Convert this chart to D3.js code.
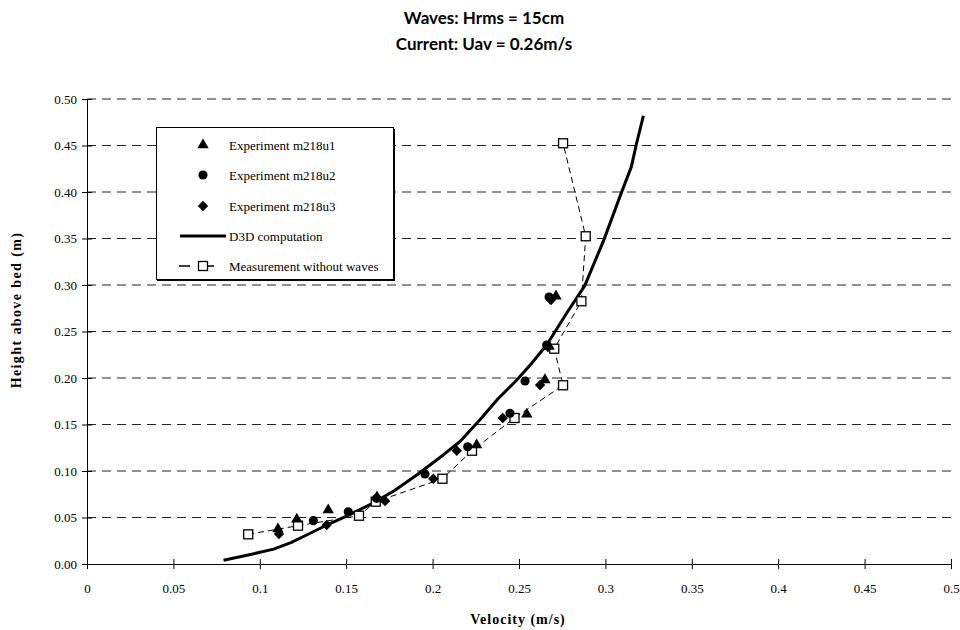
<!DOCTYPE html>
<html>
<head>
<meta charset="utf-8">
<script src="https://cdn.jsdelivr.net/npm/d3@7"></script>
<style>
  body { margin: 0; background: #fff; }
  svg { display: block; }
</style>
</head>
<body>
<svg id="chart" width="960" height="630"></svg>
<script>
// Title lines
const titleLines = ["Waves: Hrms = 15cm", "Current: Uav = 0.26m/s"];
const xLabel = "Velocity (m/s)";
const yLabel = "Height above bed (m)";

// Tick values
const xTicks = [0, 0.05, 0.1, 0.15, 0.2, 0.25, 0.3, 0.35, 0.4, 0.45, 0.5];
const xTickLabels = ["0", "0.05", "0.1", "0.15", "0.2", "0.25", "0.3", "0.35", "0.4", "0.45", "0.5"];
const yTicks = [0, 0.05, 0.1, 0.15, 0.2, 0.25, 0.3, 0.35, 0.4, 0.45, 0.5];
const yTickLabels = ["0.00", "0.05", "0.10", "0.15", "0.20", "0.25", "0.30", "0.35", "0.40", "0.45", "0.50"];

// Experiment m218u1 (velocity m/s, height m)
const u1Vel = [0.1105, 0.1214, 0.1396, 0.1678, 0.2255, 0.2545, 0.2650, 0.2674, 0.2714];
const u1Hgt = [0.0376, 0.0481, 0.0581, 0.0720, 0.1280, 0.1610, 0.1980, 0.2340, 0.2880];

// Experiment m218u2
const u2Vel = [0.1310, 0.1512, 0.1676, 0.1956, 0.2203, 0.2448, 0.2535, 0.2660, 0.2674];
const u2Hgt = [0.0466, 0.0562, 0.0706, 0.0968, 0.1261, 0.1620, 0.1968, 0.2355, 0.2870];

// Experiment m218u3
const u3Vel = [0.1111, 0.1387, 0.1725, 0.2004, 0.2140, 0.2406, 0.2622, 0.2668, 0.2685];
const u3Hgt = [0.0323, 0.0419, 0.0677, 0.0917, 0.1218, 0.1570, 0.1925, 0.2333, 0.2839];

// D3D computation profile
const d3dVel = [0.079, 0.094, 0.108, 0.118, 0.128, 0.140, 0.152, 0.165, 0.178, 0.191, 0.206, 0.216, 0.2274, 0.238, 0.2483, 0.257, 0.266, 0.278, 0.288, 0.299, 0.309, 0.315, 0.318, 0.322];
const d3dHgt = [0.004, 0.010, 0.016, 0.023, 0.032, 0.043, 0.053, 0.065, 0.079, 0.096, 0.117, 0.132, 0.155, 0.178, 0.197, 0.215, 0.2355, 0.271, 0.299, 0.348, 0.398, 0.427, 0.452, 0.482];

// Measurement without waves
const mwVel = [0.0933, 0.1221, 0.1574, 0.1671, 0.2057, 0.2228, 0.2474, 0.2755, 0.2704, 0.2861, 0.2886, 0.2755];
const mwHgt = [0.0319, 0.0412, 0.0519, 0.0670, 0.0917, 0.1218, 0.1570, 0.1922, 0.2315, 0.2825, 0.3524, 0.4524];

const legendLabels = ["Experiment m218u1", "Experiment m218u2", "Experiment m218u3", "D3D computation", "Measurement without waves"];

const svg = d3.select("#chart");

const x = d3.scaleLinear().domain([0, 0.5]).range([87, 951]);
const y = d3.scaleLinear().domain([0, 0.5]).range([564, 99]);

const serif = "'Liberation Serif', 'Times New Roman', serif";
const sans = "Lato, 'Open Sans', sans-serif";

// Titles
svg.selectAll("text.title").data(titleLines).join("text")
  .attr("class", "title")
  .attr("x", 484).attr("y", (d, i) => 24 + i * 26)
  .attr("text-anchor", "middle")
  .style("font-family", sans).style("font-weight", "700").style("font-size", "17px")
  .text(d => d);

// Horizontal dashed gridlines
svg.append("g").selectAll("line").data(yTicks.filter(v => v > 0)).join("line")
  .attr("x1", x(0)).attr("x2", x(0.5))
  .attr("y1", d => y(d)).attr("y2", d => y(d))
  .attr("stroke", "#222").attr("stroke-width", 1)
  .attr("stroke-dasharray", "9,6");

// Axes
const xAxis = d3.axisBottom(x).tickValues(xTicks).tickSizeInner(5).tickSizeOuter(0)
  .tickFormat((d, i) => xTickLabels[i]);
const gx = svg.append("g").attr("transform", `translate(0,${y(0)})`).call(xAxis);
gx.select(".domain").attr("stroke", "#000");
gx.selectAll(".tick line").attr("y1", -5).attr("y2", 5).attr("stroke", "#000");
gx.selectAll(".tick text").attr("y", 20)
  .style("font-family", serif).style("font-size", "13px").attr("fill", "#000");

const yAxis = d3.axisLeft(y).tickValues(yTicks).tickSizeInner(5).tickSizeOuter(0)
  .tickFormat((d, i) => yTickLabels[i]);
const gy = svg.append("g").attr("transform", `translate(${x(0)},0)`).call(yAxis);
gy.select(".domain").attr("stroke", "#000");
gy.selectAll(".tick line").attr("x1", -5).attr("x2", 5).attr("stroke", "#000");
gy.selectAll(".tick text").attr("x", -10)
  .style("font-family", serif).style("font-size", "13px").attr("fill", "#000");

// Axis titles
svg.append("text").attr("x", 518).attr("y", 624).attr("text-anchor", "middle")
  .style("font-family", serif).style("font-weight", "700").style("font-size", "14px")
  .style("letter-spacing", "1px")
  .text(xLabel);
svg.append("text").attr("transform", "translate(21,310) rotate(-90)").attr("text-anchor", "middle")
  .style("font-family", serif).style("font-weight", "700").style("font-size", "14px")
  .style("letter-spacing", "1.4px")
  .text(yLabel);

// Marker shapes
const triPath = d3.symbol().type(d3.symbolTriangle).size(56)();
const circPath = d3.symbol().type(d3.symbolCircle).size(66)();
const diamondPath = "M0,-5.2L5.2,0L0,5.2L-5.2,0Z";

const zip = (a, b) => a.map((v, i) => [v, b[i]]);

// D3D computation line
const line = d3.line().x(d => x(d[0])).y(d => y(d[1]));
svg.append("path").datum(zip(d3dVel, d3dHgt))
  .attr("d", line).attr("fill", "none").attr("stroke", "#000").attr("stroke-width", 3)
  .attr("stroke-linejoin", "round");

// Measurement without waves: dashed line with open squares
const mw = zip(mwVel, mwHgt);
svg.append("path").datum(mw)
  .attr("d", line).attr("fill", "none").attr("stroke", "#000").attr("stroke-width", 1)
  .attr("stroke-dasharray", "6,4");
svg.append("g").selectAll("rect").data(mw).join("rect")
  .attr("x", d => x(d[0]) - 4.5).attr("y", d => y(d[1]) - 4.5)
  .attr("width", 9).attr("height", 9)
  .attr("fill", "#fff").attr("stroke", "#000").attr("stroke-width", 1.3);

// Experiment markers
function drawMarkers(vel, hgt, path) {
  svg.append("g").selectAll("path").data(zip(vel, hgt)).join("path")
    .attr("transform", d => `translate(${x(d[0])},${y(d[1])})`)
    .attr("d", path).attr("fill", "#000");
}
drawMarkers(u3Vel, u3Hgt, diamondPath);
drawMarkers(u2Vel, u2Hgt, circPath);
drawMarkers(u1Vel, u1Hgt, triPath);

// Legend
const lg = svg.append("g");
lg.append("rect").attr("x", 156.5).attr("y", 127.5).attr("width", 237).attr("height", 152)
  .attr("fill", "#fff").attr("stroke", "#000").attr("stroke-width", 1);
lg.append("line").attr("x1", 157).attr("x2", 395).attr("y1", 280.5).attr("y2", 280.5)
  .attr("stroke", "#000").attr("stroke-width", 1);
lg.append("line").attr("x1", 394.5).attr("x2", 394.5).attr("y1", 129).attr("y2", 281)
  .attr("stroke", "#000").attr("stroke-width", 1);

const rowY = [146, 176, 207, 237, 267];
const mx = 203;
lg.append("path").attr("transform", `translate(${mx},${rowY[0] - 1})`).attr("d", triPath).attr("fill", "#000");
lg.append("path").attr("transform", `translate(${mx},${rowY[1] - 1})`).attr("d", circPath).attr("fill", "#000");
lg.append("path").attr("transform", `translate(${mx},${rowY[2] - 1})`).attr("d", diamondPath).attr("fill", "#000");
lg.append("line").attr("x1", 180).attr("x2", 226).attr("y1", rowY[3] - 1).attr("y2", rowY[3] - 1)
  .attr("stroke", "#000").attr("stroke-width", 3);
lg.append("line").attr("x1", 179).attr("x2", 226).attr("y1", rowY[4] - 1).attr("y2", rowY[4] - 1)
  .attr("stroke", "#000").attr("stroke-width", 1.3).attr("stroke-dasharray", "11,13");
lg.append("rect").attr("x", mx - 4.5).attr("y", rowY[4] - 5.5).attr("width", 9).attr("height", 9)
  .attr("fill", "#fff").attr("stroke", "#000").attr("stroke-width", 1.3);

lg.selectAll("text").data(legendLabels).join("text")
  .attr("x", 229).attr("y", (d, i) => rowY[i] + 4)
  .style("font-family", serif).style("font-size", "13px")
  .text(d => d);
</script>
</body>
</html>
